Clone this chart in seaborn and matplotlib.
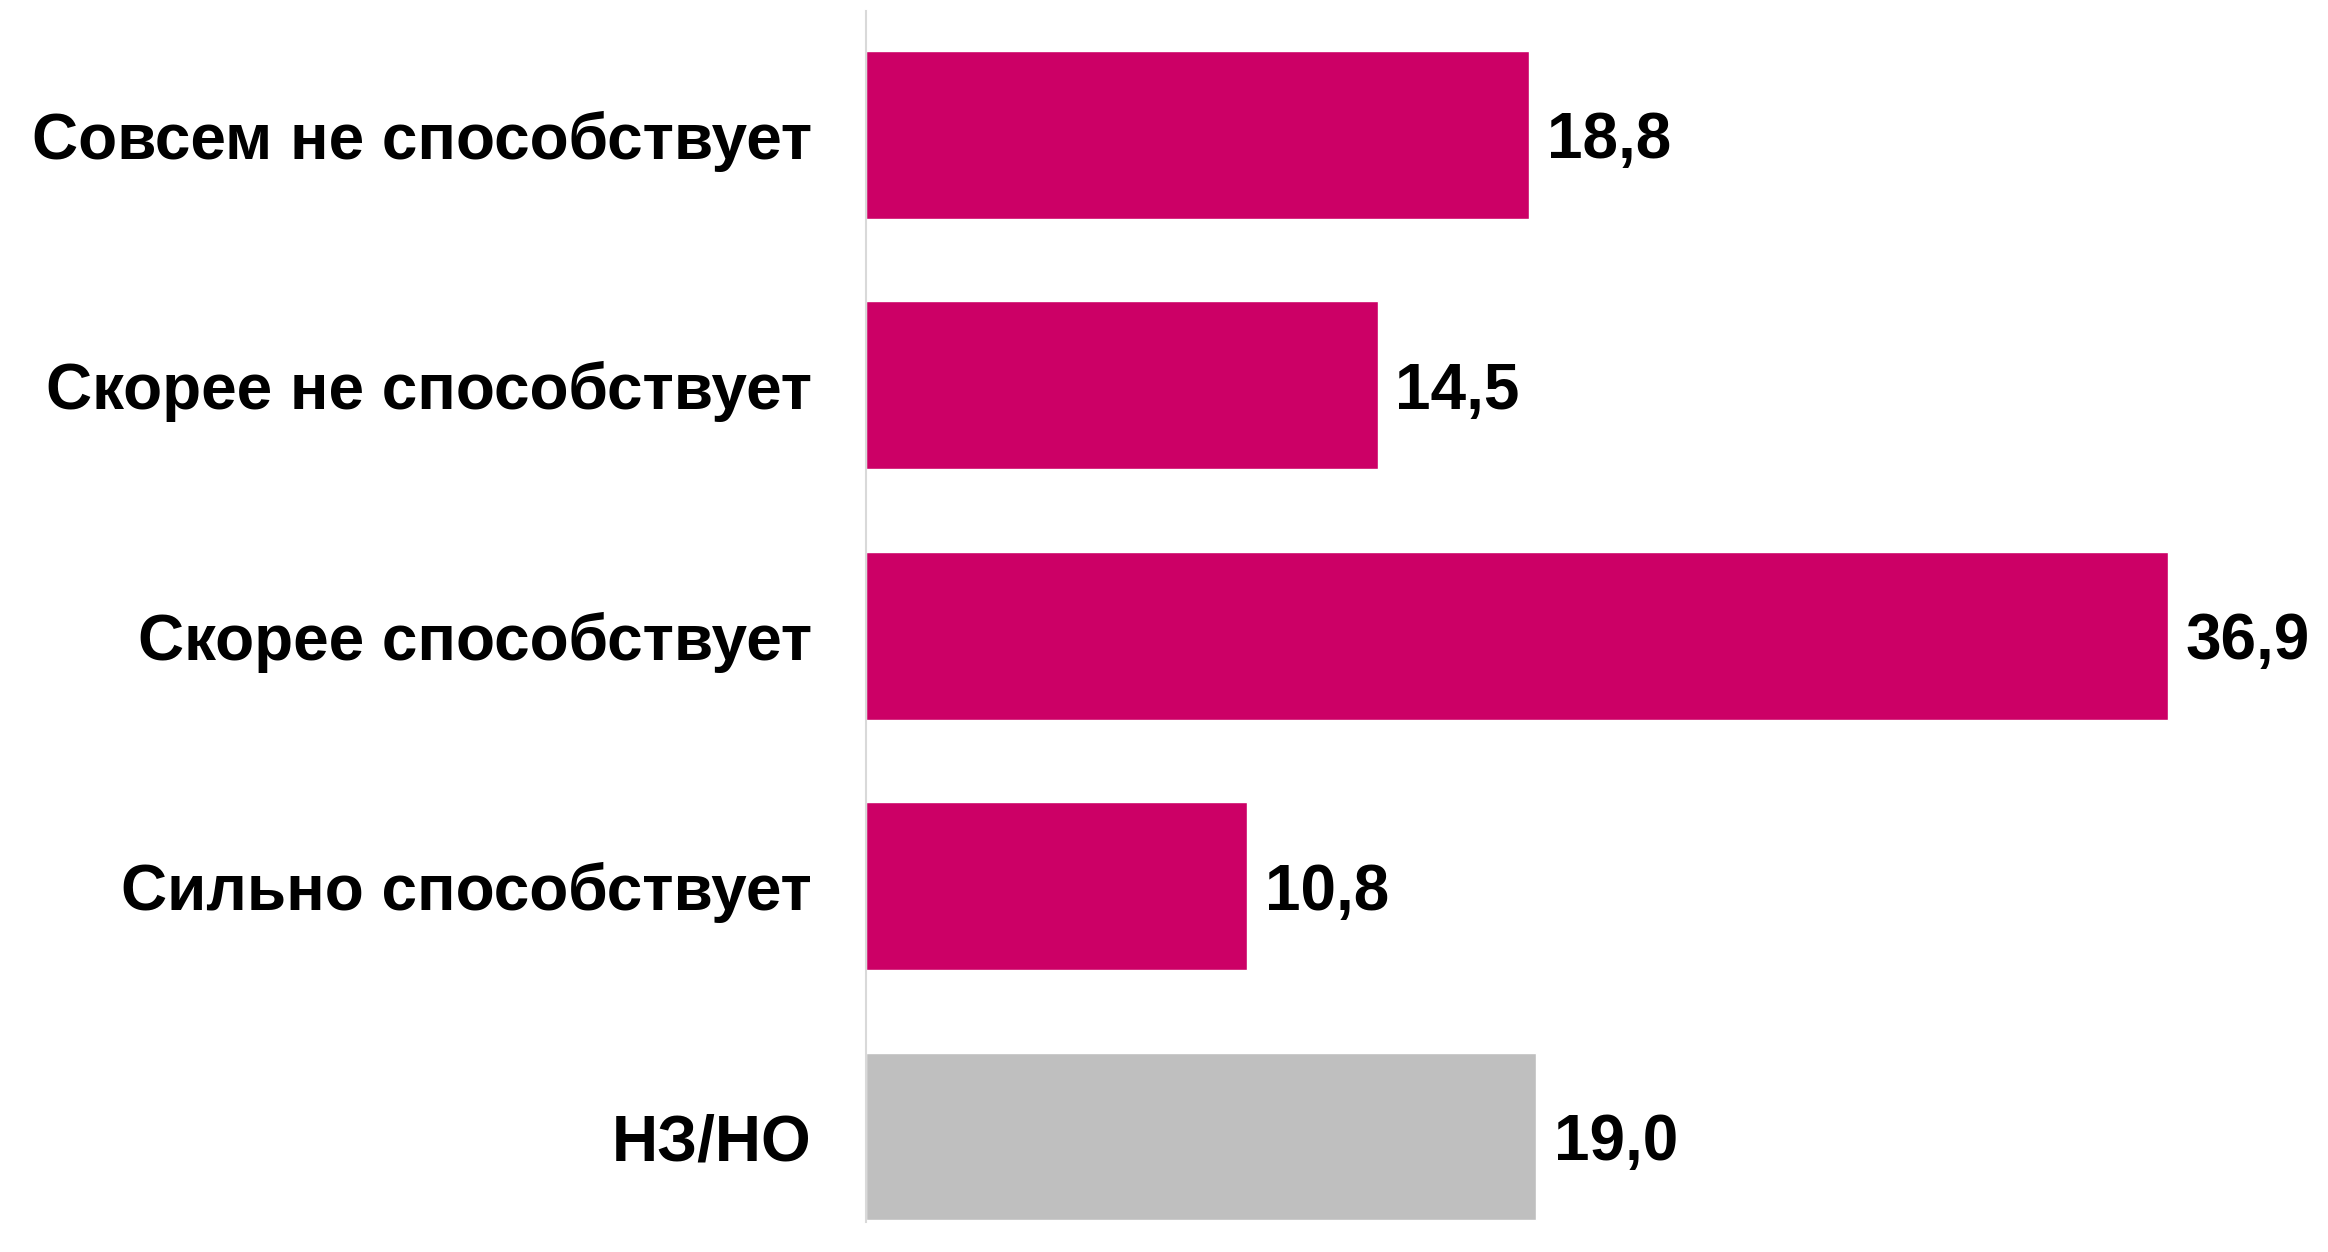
import pandas as pd
import matplotlib.pyplot as plt
import seaborn as sns

categories = ['Совсем не способствует', 'Скорее не способствует', 'Скорее способствует',
              'Сильно способствует', 'НЗ/НО']
values = [18.8, 14.5, 36.9, 10.8, 19.0]
colors = ['#CC0066', '#CC0066', '#CC0066', '#CC0066', '#BFBFBF']

df = pd.DataFrame({'cat': categories, 'val': values})

sns.set_style('white')
plt.rcParams['font.family'] = ['Liberation Sans', 'DejaVu Sans']
plt.rcParams['text.color'] = 'black'
plt.rcParams['ytick.color'] = 'black'

fig = plt.figure(figsize=(23.28, 12.52), dpi=100)
ax = fig.add_axes([866 / 2328, 1 - 1222 / 1252, 1 - 866 / 2328, 1211 / 1252])

sns.barplot(data=df, x='val', y='cat', hue='cat', palette=colors, orient='h',
            width=0.67, legend=False, ax=ax, saturation=1)

ax.set_xlim(0, 41.44)
ax.set_ylim(4.341, -0.495)
ax.set_xlabel('')
ax.set_ylabel('')
ax.set_xticks([])
for s in ['top', 'right', 'bottom']:
    ax.spines[s].set_visible(False)
ax.spines['left'].set_color('#D9D9D9')
ax.spines['left'].set_linewidth(1.5)
ax.tick_params(axis='y', length=0, pad=39)
for lab in ax.get_yticklabels():
    lab.set_fontsize(46)
    lab.set_fontweight('bold')
    lab.set_color('black')

for i, v in enumerate(values):
    ax.text(v + 0.5, i, f'{v:.1f}'.replace('.', ','), va='center_baseline', ha='left',
            fontsize=46, fontweight='bold', color='black')

fig.savefig('out.png', dpi=100)
